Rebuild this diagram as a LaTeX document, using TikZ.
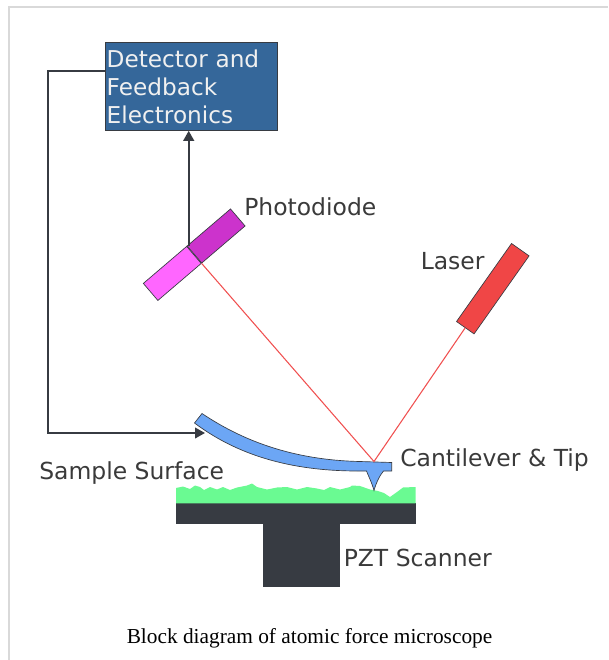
\documentclass[tikz,border=0pt]{standalone}
\usepackage{fontspec}
\newfontfamily\labelfont{DejaVu Sans}
\newfontfamily\captionfont{Liberation Serif}
\usetikzlibrary{arrows.meta}

\definecolor{framegray}{RGB}{217,217,217}
\definecolor{linegray}{RGB}{55,59,66}
\definecolor{textgray}{RGB}{58,58,58}
\definecolor{boxblue}{RGB}{53,103,154}
\definecolor{pdlight}{RGB}{255,102,255}
\definecolor{pddark}{RGB}{204,51,204}
\definecolor{laserred}{RGB}{240,70,70}
\definecolor{beamred}{RGB}{240,80,80}
\definecolor{leverblue}{RGB}{108,166,245}
\definecolor{samplegreen}{RGB}{106,250,146}

\begin{document}
\begin{tikzpicture}[
    x=0.75pt, y=-0.75pt,
    tag/.style={anchor=base west, inner sep=0pt, text=textgray,
        font=\labelfont\fontsize{17.6}{21}\selectfont},
    link/.style={draw=linegray, line width=1.4pt},
    feed arrow/.style={link, -{Triangle[length=7.5pt,width=8pt]}},
    beam/.style={draw=beamred, line width=0.8pt},
    diode half/.style={draw=linegray, line width=0.5pt, rectangle, inner sep=0pt,
        minimum width=42.75pt, minimum height=16.8pt, rotate=40.5},
    ]
\useasboundingbox (0,0) rectangle (608,660);
% frame
\draw[framegray, line width=1.5pt] (9,660) -- (9,7) -- (608,7);

% electronics box
\node[draw=linegray, line width=0.6pt, fill=boxblue, text=white!94!black,
    anchor=north west, minimum height=66pt, text width=127pt, inner xsep=1pt,
    align=left, font=\labelfont\fontsize{17.4}{21}\selectfont]
    (dfe) at (105,42) {Detector and\\Feedback\\Electronics};

% photodiode, two halves
\node[diode half, fill=pdlight, anchor=east] (pdL) at (194.2,254.7) {};
\node[diode half, fill=pddark, anchor=west] (pdR) at (194.2,254.7) {};
\node[tag] (pdtext) at (244,215) {Photodiode};

% laser
\node[draw=linegray, line width=0.5pt, fill=laserred, rectangle, inner sep=0pt,
    minimum width=71.6pt, minimum height=16.1pt, rotate=54.8]
    (laser) at (492.8,288.7) {};
\node[tag] (lasertext) at (420.5,269.3) {Laser};

% scanner and sample
\fill[linegray] (176,503.3) rectangle (415.5,524.3);
\fill[linegray] (263.3,524.3) rectangle (340,586.7);
\fill[samplegreen] (176,503.3) -- (176,488) -- (183,486.5) -- (190,489) -- (195,485.5)
    -- (200,487) -- (204,490) -- (210,487) -- (217,489.5) -- (223,487)
    -- (230,490) -- (237,487.5) -- (247,485.5) -- (252,483.5) -- (257,487)
    -- (267,489.5) -- (277,487.5) -- (287,487) -- (297,489.5) -- (307,487)
    -- (317,488.5) -- (324,490) -- (330,487) -- (340,489.5) -- (350,487)
    -- (352,485.5) -- (360,486) -- (370,489.5) -- (378,491) -- (384,493)
    -- (390,497) -- (397,492) -- (403,487.5) -- (415.5,487) -- (415.5,503.3) -- cycle;
\node[tag] (pzttext) at (343.5,566) {PZT Scanner};
\node[tag] (sampletext) at (39,479) {Sample Surface};

% cantilever with tip
\filldraw[fill=leverblue, draw=linegray, line width=0.5pt]
    (202,413.5) .. controls (240,439) and (290,460) .. (360,461.5)
    -- (391.7,462.5) -- (391.7,471) -- (383.5,471)
    .. controls (380,475) and (376,483) .. (374,490.5)
    .. controls (372,483) and (368,475) .. (366.5,471)
    -- (358,471) .. controls (288,471) and (236,454) .. (194.5,423) -- cycle;
\coordinate (apex) at (374,461.5);
\coordinate (fbin) at (205,433);
\node[tag] (levertext) at (400,466) {Cantilever \& Tip};

% laser beam
\draw[beam] (laser.west) -- (apex) -- (pdR.south west);

% signal and feedback lines
\draw[feed arrow] ([xshift=1.5pt]pdR.north west) -- ([xshift=1.5pt]pdR.north west |- dfe.south);
\draw[feed arrow] (dfe.west |- 0,70.7) -| (48,433) -- (fbin);

\node[anchor=base west, inner sep=0pt, font=\captionfont\fontsize{16}{19}\selectfont]
    (caption) at (126.5,643) {Block diagram of atomic force microscope};
\end{tikzpicture}
\end{document}
